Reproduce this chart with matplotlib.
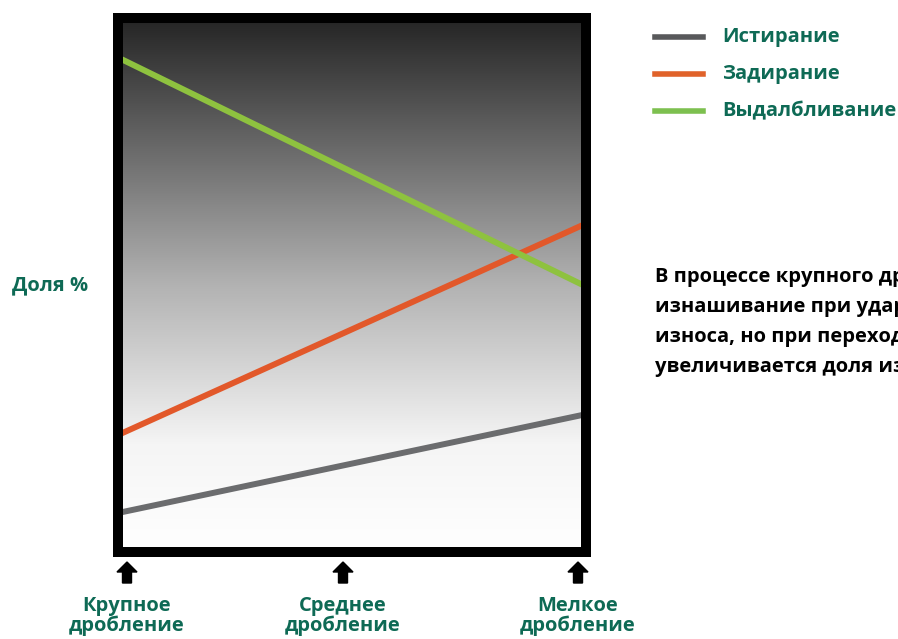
import numpy as np
import matplotlib.pyplot as plt
from matplotlib.colors import LinearSegmentedColormap
from matplotlib.patches import Polygon

plt.rcParams['font.family'] = ['Open Sans', 'DejaVu Sans']
plt.rcParams['font.weight'] = 'bold'

# data: share of wear type at coarse / medium / fine crushing
stages = [0, 2]
stage_labels = ['Крупное\nдробление', 'Среднее\nдробление', 'Мелкое\nдробление']
series_names = ['Истирание', 'Задирание', 'Выдалбливание']
abrasion = [7.3, 25.8]
galling = [21.9, 61.5]
gouging = [92.6, 49.7]
line_colors = ['#6b6c6e', '#e2582a', '#8ec23f']
legend_colors = ['#58595b', '#e0622a', '#7dc04f']

teal = '#0e6a55'
note_lines = ['В процессе крупного дробления преобладает',
              'изнашивание при ударе, что является причиной',
              'износа, но при переходе к мелкому дроблению',
              'увеличивается доля изнашивания при истирании']

fig = plt.figure(figsize=(8.98, 6.39), dpi=100)
ax = fig.add_axes([0.1314, 0.1362, 0.5212, 0.8357])

# gradient background, dark at top
cmap = LinearSegmentedColormap.from_list('bg', [(0, '#242424'), (0.5, '#b2b2b2'),
                                               (0.8, '#f5f5f5'), (1, '#ffffff')])
grad = np.linspace(0, 1, 256).reshape(-1, 1)
ax.imshow(grad, cmap=cmap, aspect='auto', extent=[0, 2, 0, 100], origin='upper', zorder=0)

for vals, c in zip([abrasion, galling, gouging], line_colors):
    ax.plot(stages, vals, color=c, lw=4.3, solid_capstyle='butt', zorder=2)

ax.set_xlim(0, 2)
ax.set_ylim(0, 100)
ax.set_xticks([])
ax.set_yticks([])
for s in ax.spines.values():
    s.set_linewidth(7.2)
    s.set_color('black')
    s.set_zorder(5)

# legend
for i, (name, c) in enumerate(zip(series_names, legend_colors)):
    y = 1 - (37 + 37 * i) / 639
    fig.add_artist(plt.Line2D([655 / 898, 703 / 898], [y, y], color=c, lw=4,
                              transform=fig.transFigure))
    fig.text(722 / 898, y, name, color=teal, fontsize=14.5, fontweight='bold',
             va='center', ha='left')

fig.text(50 / 898, 1 - 285 / 639, 'Доля %', color=teal, fontsize=14.5,
         fontweight='bold', ha='center', va='center')

for i, line in enumerate(note_lines):
    fig.text(655 / 898, 1 - (277 + 30 * i) / 639, line, color='black',
             fontsize=14.5, fontweight='bold', ha='left', va='center')

# arrows and stage labels
arrow_x = [127, 343, 578]
for x, lab in zip(arrow_x, stage_labels):
    pts = [(x - 10, 572), (x, 562), (x + 10, 572), (x + 4.5, 572), (x + 4.5, 583),
           (x - 4.5, 583), (x - 4.5, 572)]
    pts = [(px / 898, 1 - py / 639) for px, py in pts]
    fig.add_artist(Polygon(pts, closed=True, color='black', transform=fig.transFigure))
    fig.text(x / 898, 1 - 616 / 639, lab, color=teal, fontsize=14.5, fontweight='bold',
             ha='center', va='center', linespacing=1.0)

fig.savefig('out.png', dpi=100)
